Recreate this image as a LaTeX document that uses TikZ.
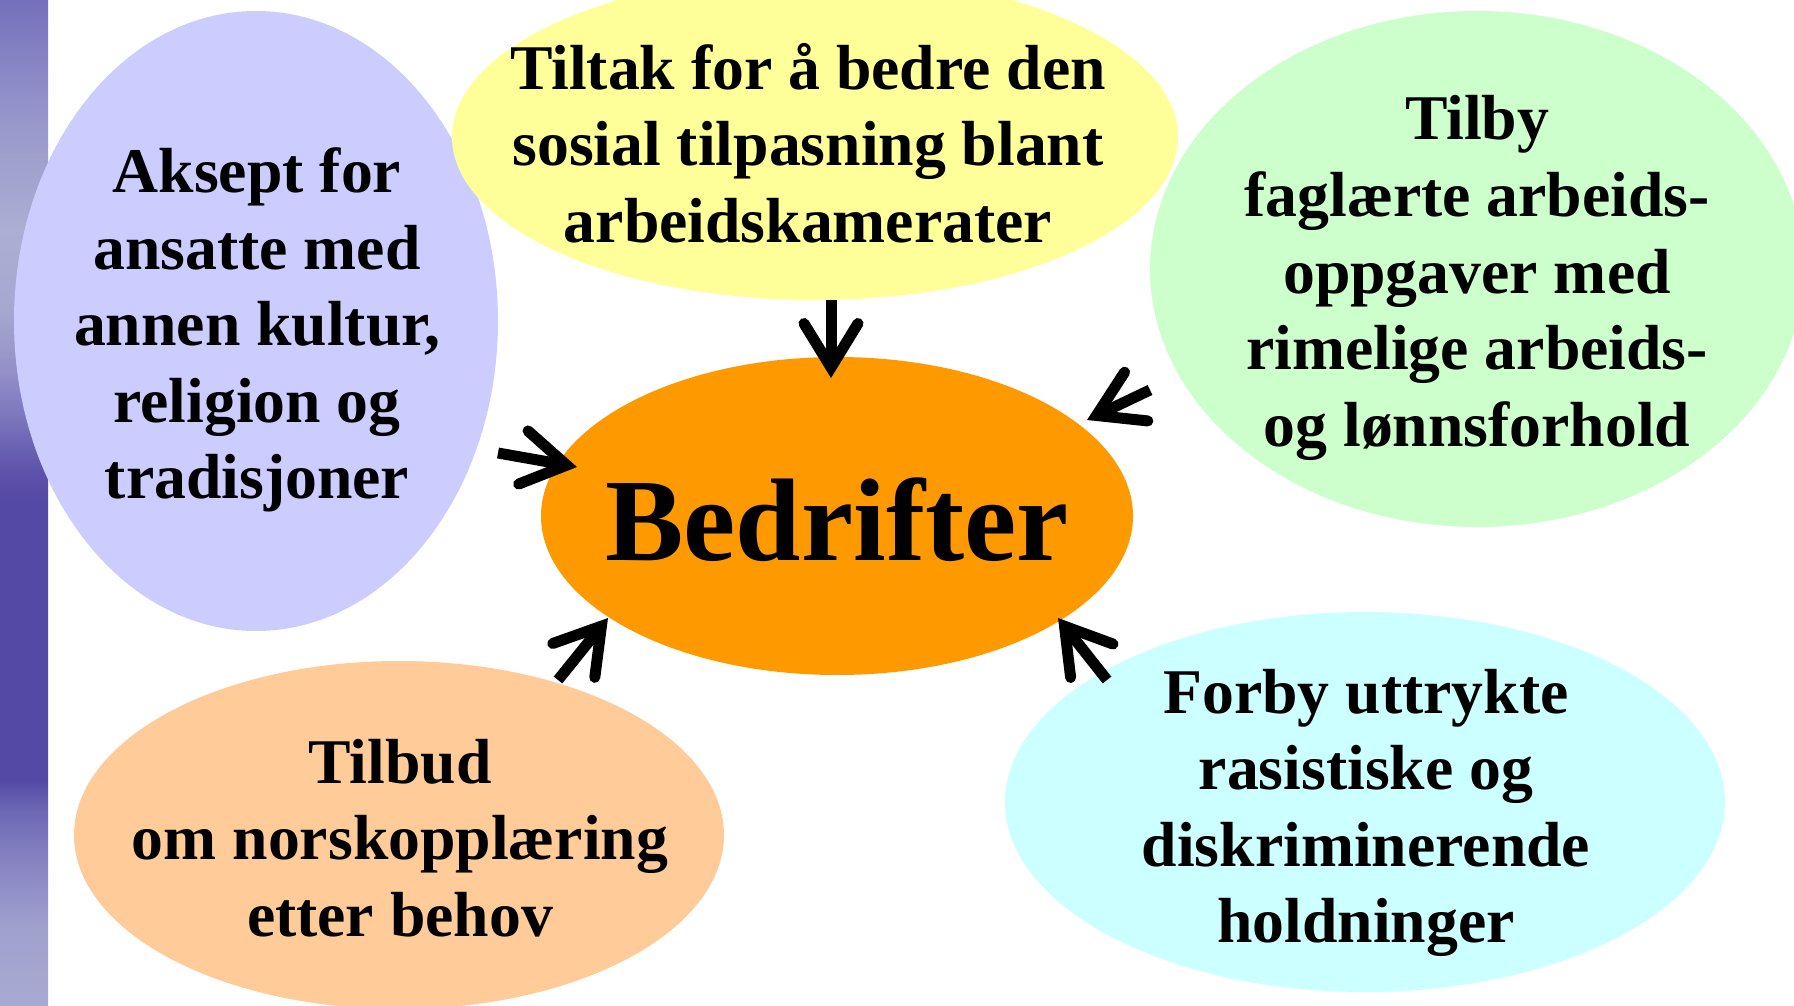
\documentclass[tikz,border=0pt]{standalone}
\usepackage{fontspec}
\setmainfont{Liberation Serif}
\usetikzlibrary{arrows.meta,shapes.geometric,calc}
\definecolor{cPurple}{HTML}{CCCCFF}
\definecolor{cYellow}{HTML}{FFFF99}
\definecolor{cGreen}{HTML}{CCFFCC}
\definecolor{cOrange}{HTML}{FF9900}
\definecolor{cPeach}{HTML}{FFCC99}
\definecolor{cCyan}{HTML}{CCFFFF}
\definecolor{sA}{HTML}{7470BC}
\definecolor{sB}{HTML}{8684C4}
\definecolor{sC}{HTML}{9A9ACC}
\definecolor{sD}{HTML}{ACAED2}
\definecolor{sE}{HTML}{A6A8D0}
\definecolor{sF}{HTML}{9490C8}
\definecolor{sG}{HTML}{7A74BC}
\definecolor{sH}{HTML}{5E52AA}
\definecolor{sI}{HTML}{5549A6}
\definecolor{sJ}{HTML}{6C68B4}
\definecolor{sK}{HTML}{8682C2}
\definecolor{sL}{HTML}{A0A2CE}
\definecolor{sM}{HTML}{A8AAD2}
\pgfdeclareverticalshading{stripshade}{100bp}{color(0bp)=(sM); color(25bp)=(sM); color(28.8bp)=(sL); color(32.3bp)=(sK); color(34.7bp)=(sJ); color(36.2bp)=(sI); color(50.1bp)=(sI); color(51.6bp)=(sH); color(54.1bp)=(sG); color(56.6bp)=(sF); color(59.6bp)=(sE); color(63.6bp)=(sD); color(68.5bp)=(sC); color(72bp)=(sB); color(75bp)=(sA); color(100bp)=(sA)}
\begin{document}
\begin{tikzpicture}[x=0.5pt,y=-0.5pt,
  blob/.style={ellipse, draw=none, inner sep=0pt, outer sep=0pt},
  txt/.style={align=center, inner sep=0pt, font=\fontsize{31.85}{38.3}\selectfont\bfseries},
  bigtxt/.style={inner sep=0pt, font=\fontsize{58.75}{70}\selectfont\bfseries},
  arr/.style={line width=5.5pt, line cap=butt,
    -{Straight Barb[length=22pt, width=27pt, line cap=round, line join=miter]}}]
\useasboundingbox (0,0) rectangle (1794,1006);
\clip (0,0) rectangle (1794,1006);
\fill[white] (0,0) rectangle (1794,1006);
\fill[shading=stripshade] (0,0) rectangle (48,1006);
% ellipses
\node[blob, fill=cPurple, minimum width=242pt, minimum height=310pt] (purple) at (256,321) {};
\node[blob, fill=cYellow, minimum width=363pt, minimum height=163pt] (yellow) at (815,137) {};
\node[blob, fill=cGreen, minimum width=327pt, minimum height=258pt] (green) at (1477,269) {};
\node[blob, fill=cOrange, minimum width=296pt, minimum height=159pt] (bed) at (837,516) {};
\node[blob, fill=cPeach, minimum width=325pt, minimum height=174pt] (peach) at (399,835) {};
\node[blob, fill=cCyan, minimum width=360pt, minimum height=190pt] (cyan) at (1365,802) {};
% texts
\node[txt] (purpleT) at (257,330) {Aksept for\\ansatte med\\annen kultur,\\religion og\\tradisjoner};
\node[txt] (yellowT) at (808,143) {Tiltak for å bedre den\\sosial tilpasning blant\\arbeidskamerater};
\node[txt] (greenT) at (1477,278) {Tilby\\faglærte arbeids-\\oppgaver med\\rimelige arbeids-\\og lønnsforhold};
\node[bigtxt] (bedT) at (837,520) {Bedrifter};
\node[txt] (peachT) at (400,838) {Tilbud\\om norskopplæring\\etter behov};
\node[txt] (cyanT) at (1366,813) {Forby uttrykte\\rasistiske og\\diskriminerende\\holdninger};
% arrow ends
\coordinate (t1) at (831,300);
\coordinate (t2) at (498,453);
\coordinate (t3) at (558,680);
\coordinate (t4) at (1150,390);
\coordinate (t5) at (1107,680);
\coordinate (h1) at ($(bed.center)+(-6,-138)$);
\coordinate (h2) at ($(bed.center)+(-260,-49)$);
\coordinate (h3) at ($(bed.center)+(-229,102)$);
\coordinate (h4) at ($(bed.center)+(250,-96)$);
\coordinate (h5) at ($(bed.center)+(221,102)$);
\draw[arr] (t1) -- (h1);
\draw[arr] (t2) -- (h2);
\draw[arr] (t3) -- (h3);
\draw[arr] (t4) -- (h4);
\draw[arr] (t5) -- (h5);
\end{tikzpicture}
\end{document}
